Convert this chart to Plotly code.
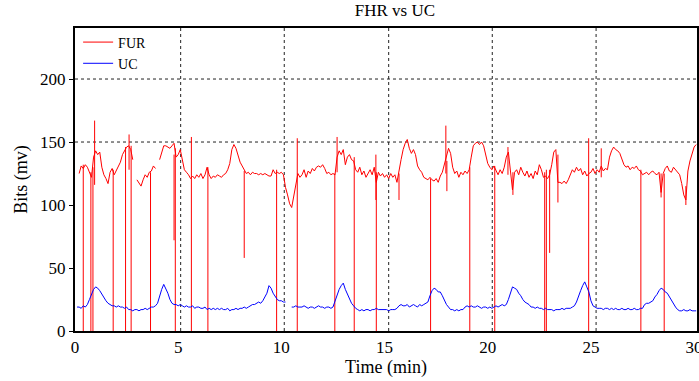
import plotly.graph_objects as go

# ---------------- data ----------------
SAMPLE_STEP_MIN = 0.1  # sampling interval of the traces (minutes)

# Fetal heart rate trace ("FUR"), one value every 0.1 min starting at t = 0
FHR = [
    None, None, 125, 131, 129, 132, 130, 126, 122, 138,
    143, 140, 142, 130, 124, 121, 117, 126, 129, 124,
    127, 131, 134, 140, 143, 146, 147, 144, 136, None,
    120, 117, 115, 120, 124, 122, 126, 127, 131, 129,
    None, 136, 142, 147, 147, 146, 145, 147, 149, 138,
    140, 144, 135, 128, 126, 124, 121, 123, 121, 124,
    122, 125, 121, 124, 130, 124, 121, 123, 122, 124,
    123, 122, 124, 125, 128, 133, 144, 148, 145, 139,
    134, 131, 128, 125, 126, 124, 126, 125, 125, 124,
    125, 124, 125, 124, 123, 123, 128, 125, 126, 125,
    126, 124, 114, 108, 101, 98, 108, 117, 125, 122,
    124, 128, 122, 127, 125, 129, 127, 130, 131, 130,
    132, 129, 125, 126, 124, 125, 124, 138, 143, 140,
    144, 132, 138, 140, 136, 135, 128, 126, 130, 124,
    127, 122, 125, 128, 124, 130, 118, 126, 123, 125,
    122, 124, 121, 125, 122, 124, 118, 128, 136, 144,
    149, 152, 145, 141, 144, 140, 131, 128, 126, 122,
    121, 120, 122, 120, 119, 121, 118, 123, 126, 132,
    138, 145, 141, 130, 125, 127, 122, 126, 124, 127,
    125, 128, 138, 147, 149, 150, 148, 150, 147, 140,
    133, 130, 128, 131, 127, 124, 128, 125, 130, 138,
    142, 128, 112, 126, 128, 124, 130, 126, 123, 127,
    122, 125, 121, 127, 124, 132, 128, 122, 123, 121,
    124, 132, 142, 144, 118, 118, 117, 119, 117, 120,
    124, 128, 126, 130, 127, 129, 124, 127, 123, 125,
    126, 129, 125, 128, 126, 131, 127, 129, 128, 138,
    143, 146, 144, 143, 141, 137, 132, 130, 131, 128,
    130, 129, 131, 128, 127, 124, 125, 126, 124, 126,
    127, 125, 124, 126, 110, 125, 129, 131, 127, 126,
    130, 128, 126, 124, 117, 108, 104, 127, 135, 140,
    146, 148,
]

# Signal drop-outs / spikes of the FHR trace: time, low end, high end
STROKE_T = [0.40, 0.77, 0.87, 1.85, 2.45, 2.72, 3.66, 4.86, 5.64, 6.44,
            9.77, 10.77, 12.59, 13.53, 14.60, 17.23, 19.13, 20.34, 22.76, 22.84,
            24.89, 27.42, 28.55,
            0.95, 2.62, 4.80, 8.20, 12.70, 14.58, 15.70, 17.97, 18.02, 20.98,
            21.22, 23.00, 23.40, 25.50, 28.40, 29.60]
STROKE_LO = [0, 0, 0, 0, 0, 0, 0, 0, 0, 0,
             0, 0, 0, 0, 0, 0, 0, 0, 0, 0,
             0, 0, 0,
             116, 128, 72, 58, 126, 104, 104, 125, 111, 124,
             108, 62, 102, 122, 106, 100]
STROKE_HI = [132, 126, 130, 128, 146, 147, 126, 145, 154, 130,
             128, 153, 125, 138, 126, 121, 130, 131, 126, 128,
             153, 128, 125,
             167, 156, 140, 127, 154, 140, 125, 163, 135, 146,
             126, 128, 140, 145, 125, 115]

# Uterine contraction trace, one value every 0.1 min starting at t = 0
UC = [
    None, 19, 19, 18, 20, 19, 21, 25, 29, 33,
    35, 34, 32, 29, 26, 24, 22, 21, 20, 20,
    19, 20, 19, 19, 18, 19, 17, 17, 16, 17,
    17, 16, 17, 17, 18, 17, 18, 19, 19, 20,
    22, 28, 33, 37, 34, 30, 25, 22, 21, 21,
    20, 21, 20, 19, 20, 19, 19, 20, 18, 19,
    19, 18, 18, 19, 17, 18, 17, 18, 17, 18,
    17, 18, 17, 17, 18, 16, 17, 17, 18, 17,
    18, 18, 19, 18, 19, 20, 21, 21, 22, 23,
    22, 24, 27, 30, 36, 34, 30, 27, 25, 24,
    24, 23, 23, None, None, 19, 19, 20, 19, 19,
    19, 20, 19, 18, 19, 19, 18, 19, 20, 19,
    19, 18, 19, 19, 18, 19, 24, 29, 33, 36,
    38, 33, 29, 25, 22, 20, 18, 17, 16, 17,
    16, 17, 17, 16, 17, 17, 18, 17, 17, 17,
    17, 17, 16, 17, 17, 17, 18, 20, 21, 20,
    20, 21, 19, 20, 21, 20, 19, 21, 20, 21,
    22, 23, 28, 32, 34, 33, 31, 31, 28, 24,
    21, 19, 17, 17, 16, 17, 16, 17, 17, 19,
    20, 19, 20, 19, 19, 20, 19, 18, 19, 19,
    18, 19, 18, 19, 20, 19, 20, 21, 20, 21,
    25, 31, 35, 34, 33, 30, 28, 25, 23, 22,
    21, 19, 19, 18, 19, 18, 18, 17, 18, 17,
    17, 17, 16, 17, 17, 17, 18, 17, 18, 18,
    18, 19, 20, 23, 28, 32, 36, 39, 35, 31,
    24, 20, 19, 18, 18, 18, 17, 18, 18, 17,
    18, 17, 18, 17, 17, 18, 17, 17, 18, 17,
    17, 18, 17, 17, 18, 18, 21, 22, 22, 23,
    24, 27, 29, 32, 34, 33, 31, 30, 27, 24,
    21, 19, 17, 16, 16, 17, 16, 16, 17, 16,
    16, 16,
]

X_TICKS = [0, 5, 10, 15, 20, 25, 30]
Y_TICKS = [0, 50, 100, 150, 200]
GRID_X = [5.12, 10.14, 15.2, 20.22, 25.25]   # dotted vertical grid lines
GRID_Y = [150, 200]                           # dotted horizontal grid lines
X_RANGE = [0, 30.14]
Y_RANGE = [0, 240.5]

# ---------------- build figure ----------------
fhr_t = [round(i * SAMPLE_STEP_MIN, 2) for i in range(len(FHR))]
uc_t = [round(i * SAMPLE_STEP_MIN, 2) for i in range(len(UC))]

sx, sy = [], []
for t, lo, hi in zip(STROKE_T, STROKE_LO, STROKE_HI):
    sx += [t, t, None]
    sy += [lo, hi, None]

SERIF = "Liberation Serif, Times New Roman, serif"
RED = "#FF0000"
BLUE = "#0000FF"

fig = go.Figure()
fig.add_trace(go.Scatter(x=fhr_t, y=FHR, mode="lines", name="FUR",
                         line=dict(color=RED, width=1), connectgaps=False))
fig.add_trace(go.Scatter(x=sx, y=sy, mode="lines", showlegend=False,
                         line=dict(color=RED, width=1), hoverinfo="skip"))
fig.add_trace(go.Scatter(x=uc_t, y=UC, mode="lines", name="UC",
                         line=dict(color=BLUE, width=1), connectgaps=False))

shapes = []
for gx in GRID_X:
    shapes.append(dict(type="line", xref="x", yref="paper", x0=gx, x1=gx, y0=0, y1=1,
                       line=dict(color="#222222", width=1, dash="dot"), layer="below"))
for gy in GRID_Y:
    shapes.append(dict(type="line", xref="paper", yref="y", x0=0, x1=1, y0=gy, y1=gy,
                       line=dict(color="#222222", width=1, dash="dot"), layer="below"))

fig.update_layout(
    width=699, height=381,
    margin=dict(l=75, r=0, t=28, b=50),
    paper_bgcolor="white", plot_bgcolor="white",
    font=dict(family=SERIF, color="black", size=16),
    title=dict(text="FHR vs UC", x=0.565, xanchor="center", y=0.99, yanchor="top",
               font=dict(family=SERIF, size=17, color="black")),
    shapes=shapes,
    showlegend=True,
    legend=dict(x=0.005, y=1.005, xanchor="left", yanchor="top",
                bgcolor="rgba(0,0,0,0)", font=dict(family=SERIF, size=14, color="black"),
                itemwidth=30, tracegroupgap=0),
    xaxis=dict(range=X_RANGE, tickvals=X_TICKS, showgrid=False, zeroline=False,
               showline=True, linecolor="black", linewidth=2, mirror=True, ticks="",
               ticklabeloverflow="allow", automargin=False,
               tickfont=dict(family=SERIF, size=17, color="black"),
               title=dict(text="Time (min)", font=dict(family=SERIF, size=18, color="black"),
                          standoff=4)),
    yaxis=dict(range=Y_RANGE, tickvals=Y_TICKS, showgrid=False, zeroline=False,
               showline=True, linecolor="black", linewidth=2, mirror=True,
               ticks="outside", ticklen=4, tickcolor="black",
               tickfont=dict(family=SERIF, size=17, color="black"),
               title=dict(text="Bits (mv)", font=dict(family=SERIF, size=18, color="black"),
                          standoff=8)),
)

fig.write_html("out.html", config={"displayModeBar": False},
               post_script="document.body.style.margin='0px';document.body.style.overflow='hidden';")
